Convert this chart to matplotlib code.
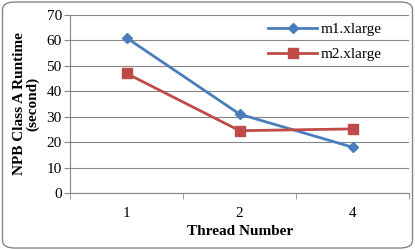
import matplotlib.pyplot as plt
from matplotlib.patches import FancyBboxPatch

plt.rcParams['font.family'] = ['Liberation Serif', 'DejaVu Serif']

threads = ["1", "2", "4"]
m1_xlarge = [61, 31, 18]
m2_xlarge = [47, 24.5, 25.2]

fig = plt.figure(figsize=(4.15, 2.5), dpi=100)
ax = fig.add_axes([0.169, 0.228, 0.817, 0.712])

# rounded frame around the whole chart
frame = FancyBboxPatch((0.006, 0.008), 0.988, 0.984, boxstyle="round,pad=0,rounding_size=0.03",
                       transform=fig.transFigure, fill=False, edgecolor="#868686", linewidth=1.0)
fig.patches.append(frame)

x = range(len(threads))
ax.plot(x, m1_xlarge, color="#4A7EBB", marker="D", markersize=5, linewidth=2, label="m1.xlarge")
ax.plot(x, m2_xlarge, color="#BE4B48", marker="s", markersize=7, linewidth=2, label="m2.xlarge")

ax.set_xlim(-0.5, 2.5)
ax.set_ylim(0, 70)
ax.set_yticks(range(0, 71, 10))
ax.set_xticks(list(x))
ax.set_xticklabels(threads)
ax.set_xticks([-0.5, 0.5, 1.5, 2.5], minor=True)
ax.tick_params(axis="x", which="major", length=0, pad=10, labelsize=11)
ax.tick_params(axis="x", which="minor", length=4, color="#868686")
ax.tick_params(axis="y", length=4, color="#868686", labelsize=11, pad=2)

ax.grid(axis="y", color="#868686", linewidth=0.8)
ax.set_axisbelow(True)
for s in ["top", "right"]:
    ax.spines[s].set_visible(False)
for s in ["left", "bottom"]:
    ax.spines[s].set_color("#868686")

ax.set_xlabel("Thread Number", fontweight="bold", fontsize=11, labelpad=4)
ax.set_ylabel("NPB Class A Runtime\n(second)", fontweight="bold", fontsize=11, labelpad=5, linespacing=1.0)

ax.legend(loc="upper right", bbox_to_anchor=(0.94, 1.0), frameon=False, fontsize=11, handlelength=3.2,
          borderaxespad=0.1, labelspacing=0.75, handletextpad=0.2)

fig.savefig("out.png", dpi=100)
